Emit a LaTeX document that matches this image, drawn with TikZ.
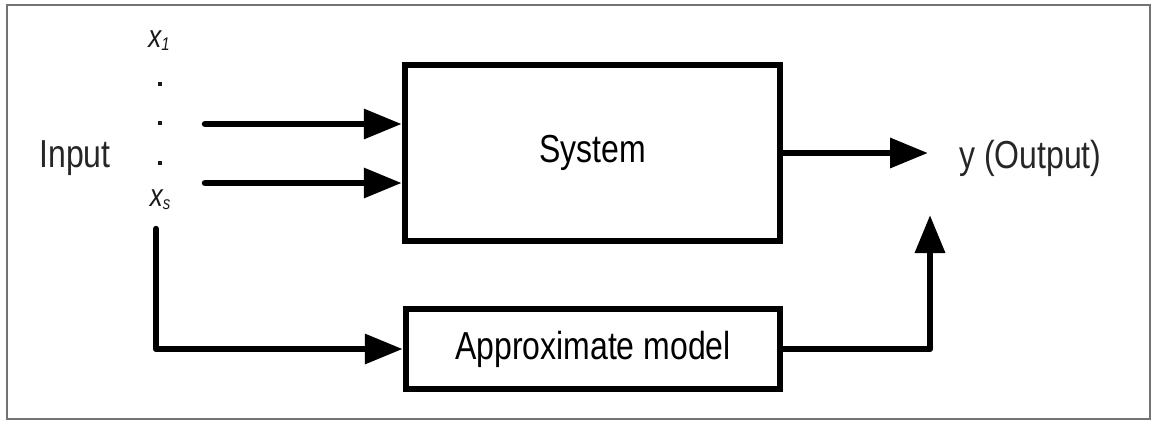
\documentclass[tikz,border=0pt]{standalone}
\usepackage{fontspec}
\setmainfont{Liberation Sans}
\usetikzlibrary{arrows.meta}
\newcommand{\vstr}[1]{\scalebox{1}[1.22]{#1}}
\newcommand{\bigtxt}{\fontsize{32}{38}\selectfont}
\newcommand{\smalltxt}{\fontsize{26}{30}\selectfont}
\newcommand{\subtxt}{\fontsize{15}{17}\selectfont}
\begin{document}
\begin{tikzpicture}[x=1pt,y=-1pt,
  blockbox/.style={draw=black, line width=6.5pt, rectangle, inner sep=0pt, font=\bigtxt},
  lbl/.style={inner sep=0pt, font=\bigtxt, text=black!85},
  varlbl/.style={inner sep=0pt, font=\smalltxt\itshape, text=black!90},
  dotnode/.style={rectangle, fill=black!90, inner sep=0pt, minimum size=4pt},
  arr/.style={line width=6.5pt, line cap=round, line join=round,
    -{Triangle[length=38pt,width=29pt]}},
  frameline/.style={draw=black!55, line width=2pt}
]
\useasboundingbox (0,0) rectangle (1152,421);
\path[frameline] (7,5) rectangle (1150,419);

% blocks
\node[blockbox, minimum width=375pt, minimum height=176pt] (sys) at (592.5,153) {\vstr{System}};
\node[blockbox, minimum width=374pt, minimum height=80pt] (approx) at (593,349) {\vstr{Approximate model}};

% labels
\node[lbl, anchor=base] (inp) at (75,167) {\vstr{Input}};
\node[lbl, anchor=base west] (out) at (959,168) {\vstr{y (Output)}};
\node[varlbl, anchor=base] (x1) at (159,47) {\vstr{x\raisebox{-3pt}{\subtxt 1}}};
\node[varlbl, anchor=base] (xs) at (160,206) {\vstr{x\raisebox{-3pt}{\subtxt s}}};
\node[dotnode] (d1) at (160,84) {};
\node[dotnode] (d2) at (160,123) {};
\node[dotnode] (d3) at (160,163) {};

% connector end points
\coordinate (i1) at (205,124);
\coordinate (i2) at (205,183);
\coordinate (i3) at (156,229);
\coordinate (otip) at (928,153);
\coordinate (utip) at (930,215);

% connectors
\draw[arr] (i1) -- (i1 -| sys.west);
\draw[arr] (i2) -- (i2 -| sys.west);
\draw[arr] (i3) |- (approx.west);
\draw[arr] (sys.east |- otip) -- (otip);
\draw[arr] (approx.east) -| (utip);
\end{tikzpicture}
\end{document}
